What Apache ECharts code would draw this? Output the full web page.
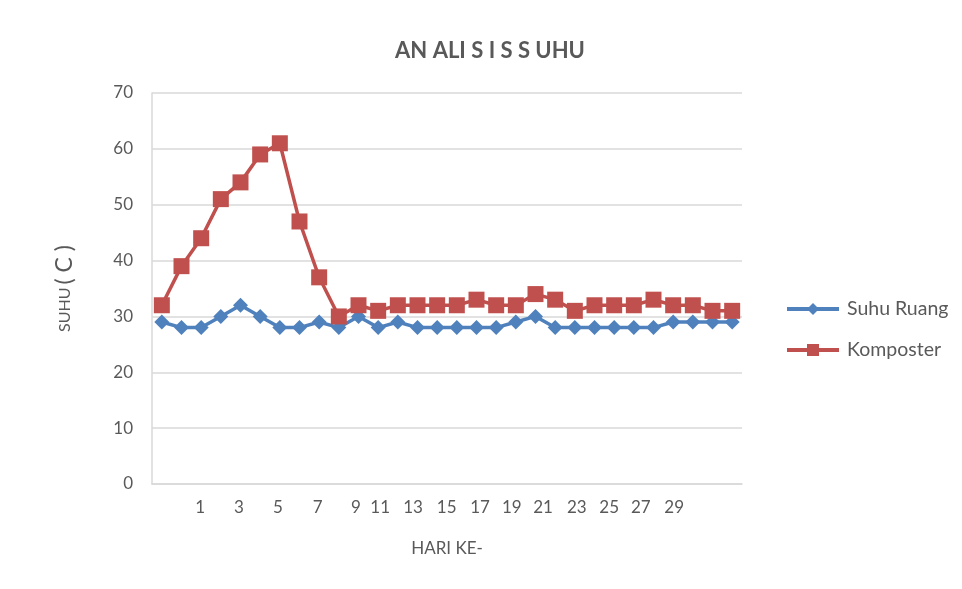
<!DOCTYPE html>
<html><head><meta charset="utf-8">
<script src="https://cdn.jsdelivr.net/npm/echarts@6/dist/echarts.min.js"></script>
<style>html,body{margin:0;padding:0;background:#fff}#c{width:962px;height:589px}</style>
</head><body><div id="c"></div>
<script>
// Category tick labels as shown in the reference (30 days)
var xLabels = ['', '', '1', '', '3', '', '5', '', '7', '', '9', '11', '', '13', '15', '', '17', '', '19', '21', '', '23', '', '25', '27', '', '29', '', '', ''];
var suhuRuang = [29, 28, 28, 30, 32, 30, 28, 28, 29, 28, 30, 28, 29, 28, 28, 28, 28, 28, 29, 30, 28, 28, 28, 28, 28, 28, 29, 29, 29, 29];
var komposter = [32, 39, 44, 51, 54, 59, 61, 47, 37, 30, 32, 31, 32, 32, 32, 32, 33, 32, 32, 34, 33, 31, 32, 32, 32, 33, 32, 32, 31, 31];
var yTicks = [0, 10, 20, 30, 40, 50, 60, 70];

// label nudges (style only: pixels shifted from the band centre)
var labelNudge = {'1': -1, '3': -1.5, '5': -2, '7': -1.5, '9': -2.5, '11': 2, '13': -4.5, '15': 9.5, '17': 3.5, '19': -4, '21': 7.5, '23': 2, '25': -5, '27': 7, '29': 1};
var rich = {};
Object.keys(labelNudge).forEach(function (k) {
  var p = labelNudge[k];
  rich['n' + k] = {fontFamily: 'Lato, sans-serif', fontSize: 17, color: '#595959',
    padding: p >= 0 ? [0, 0, 0, 2 * p] : [0, -2 * p, 0, 0]};
});

var font = 'Lato, "Open Sans", sans-serif';
var txt = '#595959';
var chart = echarts.init(document.getElementById('c'));
chart.setOption({
  animation: false,
  backgroundColor: '#fff',
  textStyle: {fontFamily: font},
  title: {
    text: 'AN ALI S I S S UHU', left: 485, top: 35, textAlign: 'center',
    textStyle: {fontFamily: font, fontSize: 22, fontWeight: 'bold', color: txt}
  },
  legend: {
    orient: 'vertical', left: 780, top: 294, itemGap: 21,
    itemWidth: 52, itemHeight: 15,
    lineStyle: {width: 4},
    textStyle: {fontFamily: font, fontSize: 19.5, color: txt, padding: [0, 0, 0, 3]},
    data: ['Suhu Ruang', 'Komposter']
  },
  grid: {left: 152, right: 220, top: 93, bottom: 105},
  xAxis: {
    type: 'category', data: xLabels, boundaryGap: true,
    name: 'HARI KE-', nameLocation: 'middle', nameGap: 56,
    nameTextStyle: {fontFamily: font, fontSize: 17, color: txt},
    axisLine: {lineStyle: {color: '#d9d9d9', width: 1.5}},
    axisTick: {show: false},
    axisLabel: {
      interval: 0, fontFamily: font, fontSize: 17, color: txt, margin: 15,
      formatter: function (v) { return v === '' ? '' : '{n' + v + '|' + v + '}'; },
      rich: rich
    }
  },
  yAxis: {
    type: 'value', min: yTicks[0], max: yTicks[yTicks.length - 1], interval: 10,
    name: '{a|SUHU}{b|( C )}', nameLocation: 'middle', nameGap: 76, nameRotate: 90,
    nameTextStyle: {fontFamily: font, fontSize: 16, color: txt,
      rich: {a: {fontFamily: font, fontSize: 16, color: txt}, b: {fontFamily: font, fontSize: 23, color: txt, padding: [0, 0, 0, 3]}}},
    axisLine: {show: true, lineStyle: {color: '#d9d9d9', width: 1.5}},
    axisTick: {show: false},
    splitLine: {lineStyle: {color: '#d9d9d9', width: 1.5}},
    axisLabel: {fontFamily: font, fontSize: 17, color: txt, margin: 19}
  },
  series: [
    {
      name: 'Suhu Ruang', type: 'line', data: suhuRuang,
      symbol: 'diamond', symbolSize: 15,
      itemStyle: {color: '#4f81bd'}, lineStyle: {color: '#4f81bd', width: 3.5}
    },
    {
      name: 'Komposter', type: 'line', data: komposter,
      symbol: 'rect', symbolSize: 16,
      itemStyle: {color: '#c0504d'}, lineStyle: {color: '#c0504d', width: 3.5}
    }
  ]
});
</script></body></html>
